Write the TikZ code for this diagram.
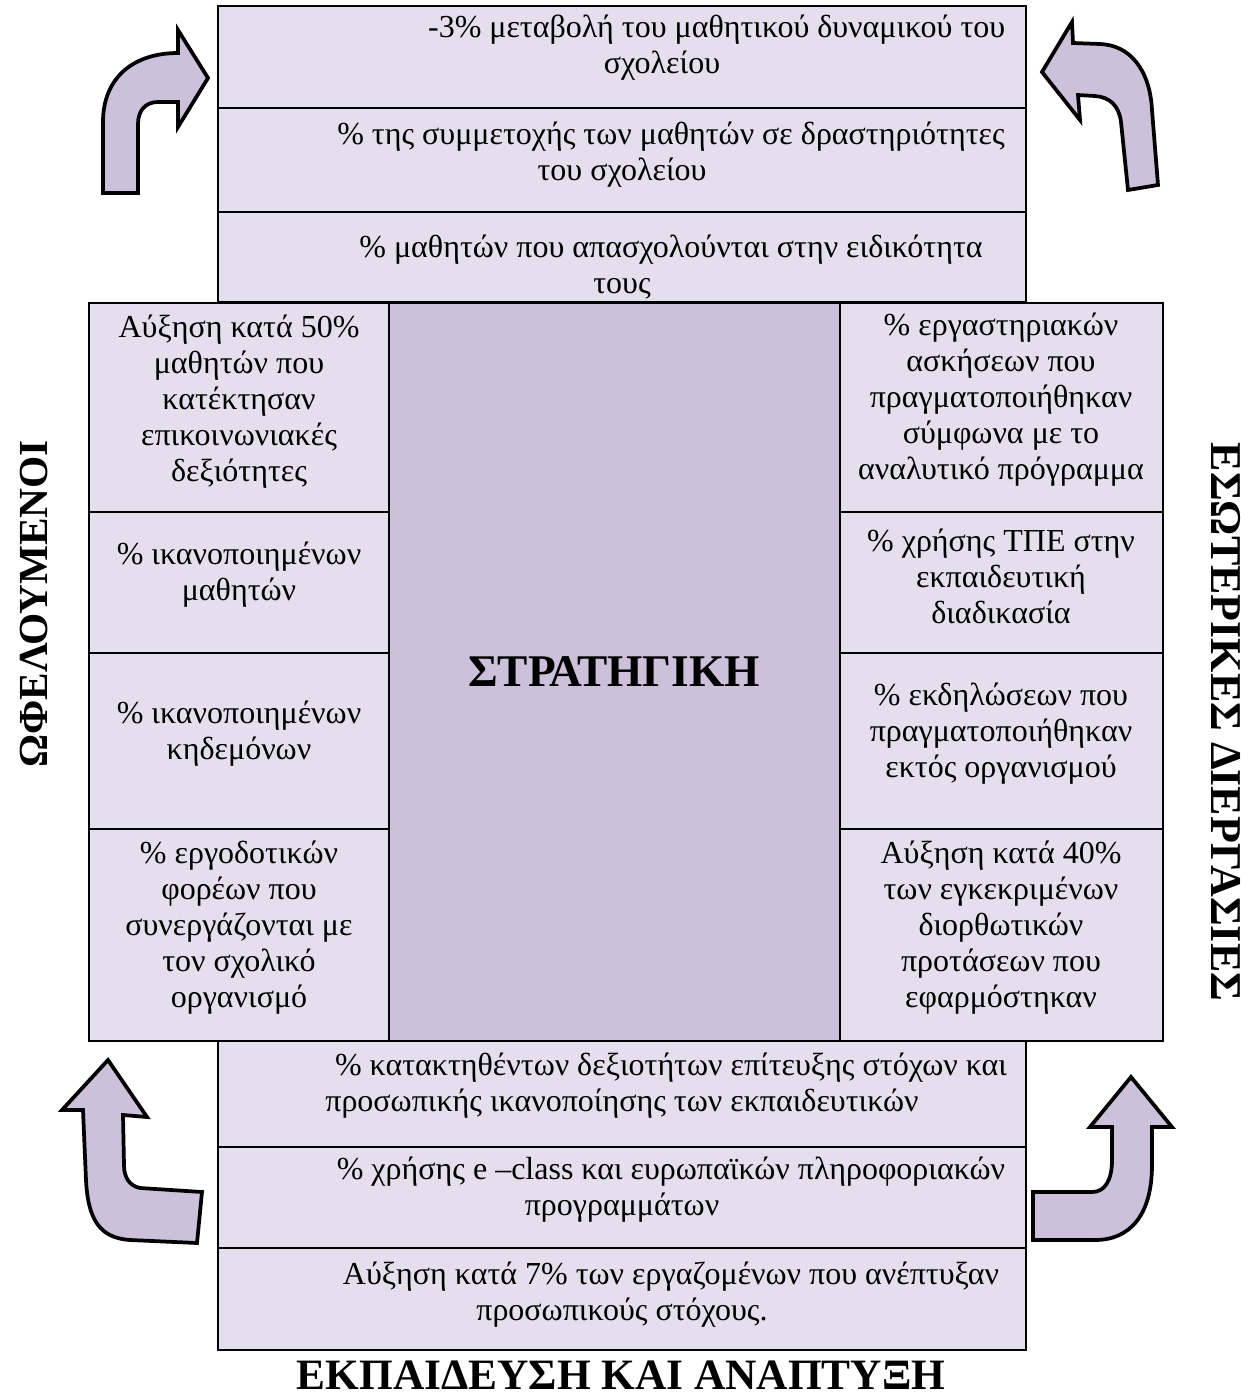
\documentclass[tikz,border=0pt]{standalone}
\usepackage{fontspec}
\setmainfont{Liberation Serif}
\usetikzlibrary{fit}
\definecolor{cellfill}{HTML}{E4DFEC}
\definecolor{corefill}{HTML}{CCC0DA}
\begin{document}
\begin{tikzpicture}[x=0.75pt,y=-0.75pt,
  cell/.style={draw=black, line width=2pt, fill=cellfill, inner sep=0pt},
  core/.style={cell, fill=corefill},
  txt/.style={align=center, inner sep=0pt, font=\fontsize{24}{27}\selectfont},
  heading/.style={inner sep=0pt, font=\fontsize{#1}{36}\selectfont\bfseries},
  heading/.default=31,
  turn/.style={draw=black, line width=2.8pt, fill=corefill, line join=miter}]
\useasboundingbox (0,0) rectangle (1257,1397);

% top block
\node[cell, fit={(218,6)(1026,108)}] (t1) {};
\node[cell, fit={(218,108)(1026,212)}] (t2) {};
\node[cell, fit={(218,212)(1026,302)}] (t3) {};
% bottom block
\node[cell, fit={(218,1041)(1026,1147)}] (b1) {};
\node[cell, fit={(218,1147)(1026,1248)}] (b2) {};
\node[cell, fit={(218,1248)(1026,1350)}] (b3) {};
% left column
\node[cell, fit={(89,303)(389,512)}] (l1) {};
\node[cell, fit={(89,512)(389,653)}] (l2) {};
\node[cell, fit={(89,653)(389,829)}] (l3) {};
\node[cell, fit={(89,829)(389,1041)}] (l4) {};
% right column
\node[cell, fit={(840,303)(1163,512)}] (r1) {};
\node[cell, fit={(840,512)(1163,653)}] (r2) {};
\node[cell, fit={(840,653)(1163,829)}] (r3) {};
\node[cell, fit={(840,829)(1163,1041)}] (r4) {};
% centre
\node[core, fit={(389,303)(840,1041)}] (core) {};
\node[heading=34] (strat) at (614,672) {ΣΤΡΑΤΗΓΙΚΗ};

% texts of the top block
\node[txt] (tt1) at (662,48) {\hspace*{82pt}-3\% μεταβολή του μαθητικού δυναμικού του\\σχολείου};
\node[txt] (tt2) at (622,155) {\hspace*{73.5pt}\% της συμμετοχής των μαθητών σε δραστηριότητες\\του σχολείου};
\node[txt] (tt3) at (622,267) {\hspace*{73.5pt}\% μαθητών που απασχολούνται στην ειδικότητα\\τους};

% texts of the bottom block
\node[txt] (bt1) at (622,1086) {\hspace*{73.5pt}\% κατακτηθέντων δεξιοτήτων επίτευξης στόχων και\\προσωπικής ικανοποίησης των εκπαιδευτικών};
\node[txt] (bt2) at (622,1190) {\hspace*{73.5pt}\% χρήσης e –class και ευρωπαϊκών πληροφοριακών\\προγραμμάτων};
\node[txt] (bt3) at (622,1295) {\hspace*{73.5pt}Αύξηση κατά 7\% των εργαζομένων που ανέπτυξαν\\προσωπικούς στόχους.};

% texts of the left column
\node[txt] (lt1) at (239,402) {Αύξηση κατά 50\%\\μαθητών που\\κατέκτησαν\\επικοινωνιακές\\δεξιότητες};
\node[txt] (lt2) at (239,575) {\% ικανοποιημένων\\μαθητών};
\node[txt] (lt3) at (239,734) {\% ικανοποιημένων\\κηδεμόνων};
\node[txt] (lt4) at (239,928) {\% εργοδοτικών\\φορέων που\\συνεργάζονται με\\τον σχολικό\\οργανισμό};

% texts of the right column
\node[txt] (rt1) at (1001,400) {\% εργαστηριακών\\ασκήσεων που\\πραγματοποιήθηκαν\\σύμφωνα με το\\αναλυτικό πρόγραμμα};
\node[txt] (rt2) at (1001,576) {\% χρήσης ΤΠΕ στην\\εκπαιδευτική\\διαδικασία};
\node[txt] (rt3) at (1001,734) {\% εκδηλώσεων που\\πραγματοποιήθηκαν\\εκτός οργανισμού};
\node[txt] (rt4) at (1001,928) {Αύξηση κατά 40\%\\των εγκεκριμένων\\διορθωτικών\\προτάσεων που\\εφαρμόστηκαν};

% perspective headings
\node[heading=31, rotate=90] (benef) at (34,604) {ΩΦΕΛΟΥΜΕΝΟΙ};
\node[heading=33, rotate=-90] (intproc) at (1226,722) {ΕΣΩΤΕΡΙΚΕΣ ΔΙΕΡΓΑΣΙΕΣ};
\node[heading=32.5] (learn) at (621,1375) {ΕΚΠΑΙΔΕΥΣΗ ΚΑΙ ΑΝΑΠΤΥΞΗ};

% curved block arrows in the four corners
\draw[turn] (103,193) -- (103,122) .. controls (103,78) and (133,53) .. (178,53)
  -- (178,30) -- (208,78) -- (178,127) -- (178,102) -- (158,102)
  .. controls (146,102) and (138,110) .. (138,124) -- (138,193) -- cycle;
\draw[turn] (1128,190) -- (1121,122) .. controls (1119,106) and (1110,97) .. (1095,96)
  -- (1078,95) -- (1080,120) -- (1042,72) -- (1072,22) -- (1073,43) -- (1100,44)
  .. controls (1130,45) and (1150,70) .. (1152,110) -- (1158,185) -- cycle;
\draw[turn] (108,1060) -- (62,1110) -- (83,1110) -- (86,1180)
  .. controls (88,1220) and (100,1238) .. (130,1240) -- (197,1243) -- (202,1192)
  -- (140,1188) .. controls (130,1186) and (124,1178) .. (124,1165)
  -- (123,1115) -- (147,1117) -- cycle;
\draw[turn] (1131,1077) -- (1172,1127) -- (1152,1127) -- (1152,1165)
  .. controls (1152,1215) and (1130,1240) .. (1095,1240) -- (1033,1240)
  -- (1033,1192) -- (1092,1192) .. controls (1105,1192) and (1112,1180) .. (1112,1160)
  -- (1112,1127) -- (1090,1127) -- cycle;
\end{tikzpicture}
\end{document}
